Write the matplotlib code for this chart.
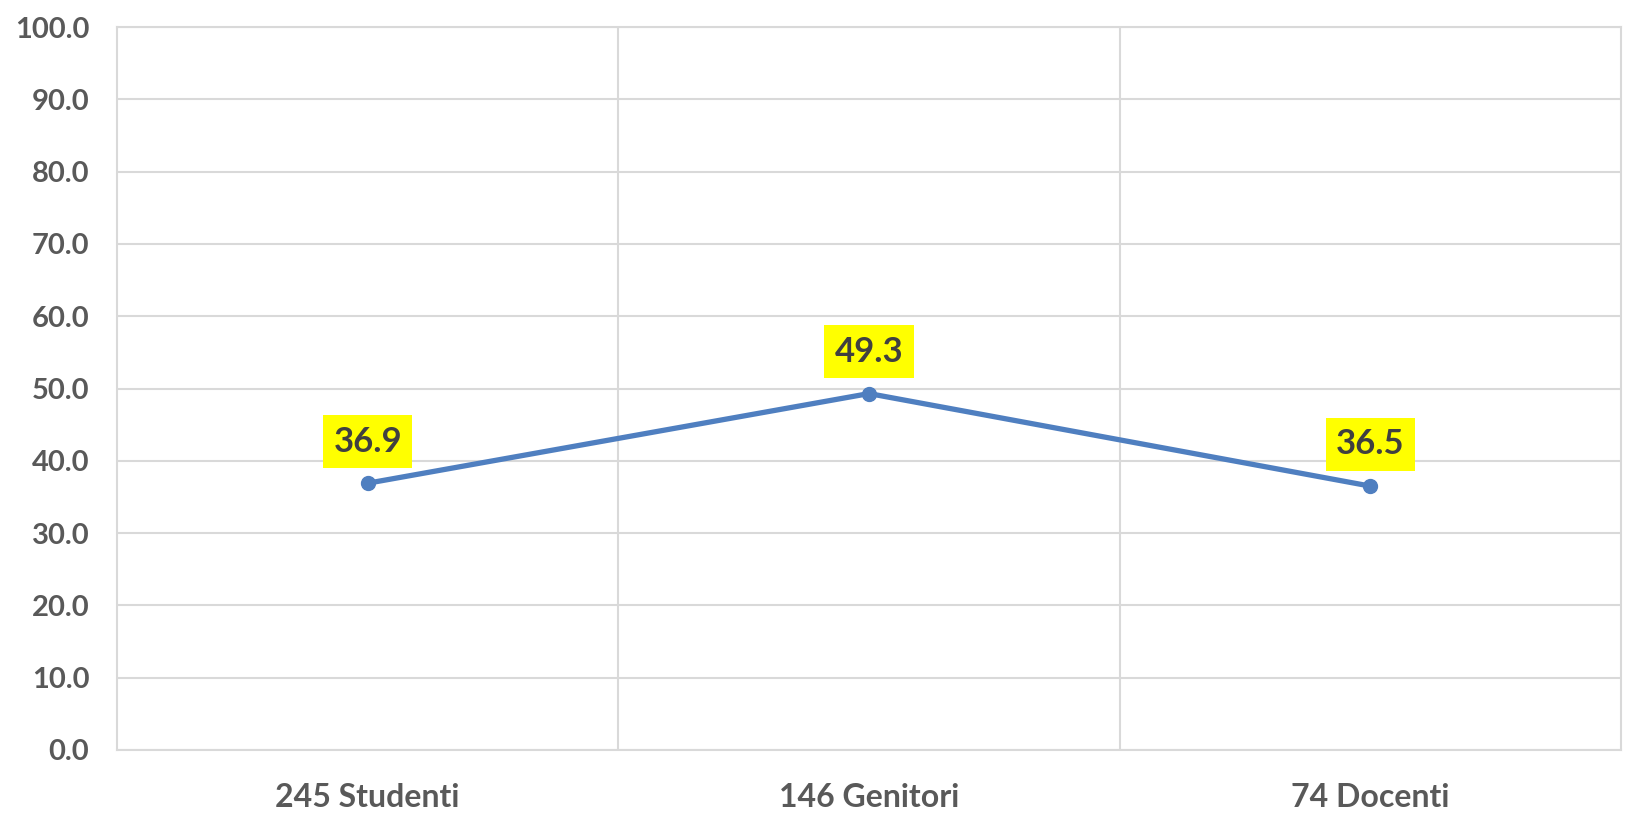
import numpy as np
import matplotlib
matplotlib.use('Agg')
from matplotlib import pyplot as plt

categorie = ['245 Studenti', '146 Genitori', '74 Docenti']
valori = [36.9, 49.3, 36.5]
yticks = np.arange(0, 101, 10)

plt.rcParams['font.family'] = ['Lato', 'DejaVu Sans']

fig = plt.figure(figsize=(16.26, 8.19), dpi=100)
ax = fig.add_axes([117/1626, 1-750/819, (1621-117)/1626, (750-27)/819])

x = np.arange(len(categorie))
ax.plot(x, valori, color='#4F7FC0', lw=3.8, marker='o', ms=10, zorder=3,
        solid_capstyle='round')

for xi, v in zip(x, valori):
    ax.annotate('%.1f' % v, (xi, v), xytext=(0, 30), textcoords='offset points',
                ha='center', va='center', fontsize=25, fontweight='bold',
                color='#404040',
                bbox=dict(boxstyle='square,pad=0.3', fc='#FFFF00', ec='none'),
                zorder=4)

ax.set_xlim(-0.5, 2.5)
ax.set_ylim(0, 100)
ax.set_yticks(yticks)
ax.set_yticklabels(['%.1f' % t for t in yticks])
ax.set_xticks(x)
ax.set_xticklabels(categorie)
ax.set_xticks([0.5, 1.5], minor=True)

ax.grid(axis='y', which='major', color='#D9D9D9', lw=1.5)
ax.grid(axis='x', which='minor', color='#D9D9D9', lw=1.5)
ax.set_axisbelow(True)
for s in ax.spines.values():
    s.set_color('#D9D9D9')
    s.set_linewidth(1.5)

ax.tick_params(axis='both', which='both', length=0)
ax.tick_params(axis='y', pad=20, labelsize=21, labelcolor='#595959')
ax.tick_params(axis='x', pad=24, labelsize=23, labelcolor='#595959')
for lab in ax.get_xticklabels() + ax.get_yticklabels():
    lab.set_fontweight('bold')

fig.savefig('out.png', dpi=100)
